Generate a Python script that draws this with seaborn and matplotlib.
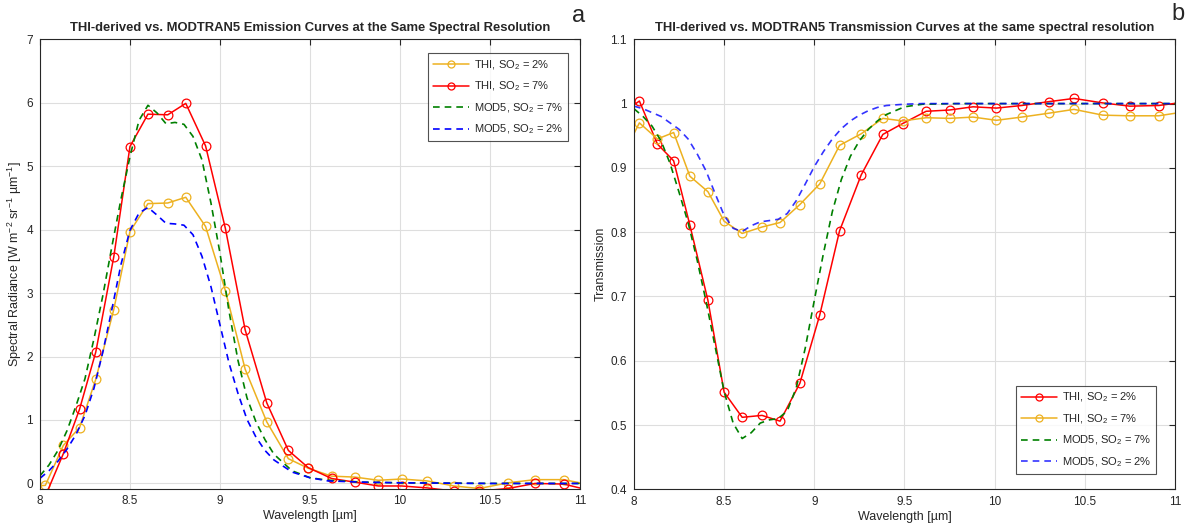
import matplotlib
matplotlib.use("Agg")
import matplotlib.pyplot as plt
from matplotlib.ticker import FuncFormatter, FixedLocator
import seaborn as sns

# ---------------- data ----------------
wl_thi = [7.94, 8.03, 8.13, 8.22, 8.31, 8.41, 8.50, 8.60, 8.71, 8.81, 8.92, 9.03, 9.14,
          9.26, 9.38, 9.49, 9.62, 9.75, 9.88, 10.01, 10.15, 10.30, 10.44, 10.60, 10.75,
          10.91, 11.07]

# panel a: emission (radiance)
rad_thi_2 = [-0.05, -0.03, 0.60, 0.88, 1.64, 2.74, 3.97, 4.41, 4.42, 4.51, 4.05, 3.04, 1.80,
             0.97, 0.39, 0.24, 0.115, 0.10, 0.05, 0.07, 0.04, -0.04, -0.08, 0.01, 0.06,
             0.06, -0.03]
rad_thi_7 = [-0.4, -0.2, 0.47, 1.17, 2.07, 3.57, 5.31, 5.82, 5.81, 5.99, 5.32, 4.02, 2.42,
             1.27, 0.52, 0.25, 0.078, 0.02, -0.04, -0.04, -0.07, -0.12, -0.12, -0.08, 0.0,
             -0.01, -0.12]

wl_mod_a = [8.0, 8.05, 8.1, 8.15, 8.2, 8.25, 8.3, 8.35, 8.4, 8.45, 8.5, 8.55, 8.6, 8.65,
            8.7, 8.75, 8.8, 8.85, 8.9, 8.95, 9.0, 9.05, 9.1, 9.15, 9.2, 9.25, 9.3, 9.4,
            9.5, 9.6, 9.8, 10.0, 10.5, 11.0]
rad_mod_7 = [0.12, 0.29, 0.52, 0.83, 1.22, 1.65, 2.28, 2.97, 3.74, 4.48, 5.15, 5.72, 5.96,
             5.84, 5.67, 5.69, 5.66, 5.47, 5.10, 4.42, 3.63, 2.72, 1.94, 1.35, 0.97, 0.69,
             0.46, 0.20, 0.09, 0.05, 0.02, 0.01, 0.0, 0.0]
rad_mod_2 = [0.08, 0.20, 0.35, 0.54, 0.77, 1.07, 1.50, 2.08, 2.75, 3.45, 3.99, 4.26, 4.35,
             4.23, 4.10, 4.09, 4.07, 3.92, 3.58, 3.10, 2.50, 1.90, 1.42, 1.01, 0.73, 0.52,
             0.37, 0.18, 0.09, 0.04, 0.02, 0.01, 0.0, 0.0]

# panel b: transmission
tr_thi_2 = [0.986, 1.004, 0.937, 0.911, 0.811, 0.694, 0.551, 0.512, 0.515, 0.506, 0.565,
            0.671, 0.802, 0.889, 0.952, 0.969, 0.988, 0.990, 0.995, 0.993, 0.997, 1.003,
            1.008, 1.001, 0.996, 0.997, 1.003]
tr_thi_7 = [0.92, 0.970, 0.945, 0.955, 0.887, 0.863, 0.817, 0.798, 0.808, 0.815, 0.843,
            0.875, 0.935, 0.953, 0.977, 0.973, 0.978, 0.977, 0.979, 0.974, 0.979, 0.985,
            0.991, 0.982, 0.981, 0.981, 0.988]

wl_mod_b = [8.0, 8.05, 8.1, 8.15, 8.2, 8.25, 8.3, 8.35, 8.4, 8.45, 8.5, 8.55, 8.6, 8.65,
            8.7, 8.75, 8.8, 8.85, 8.9, 8.95, 9.0, 9.05, 9.1, 9.15, 9.2, 9.25, 9.3, 9.35,
            9.4, 9.5, 9.6, 9.8, 10.0, 10.5, 11.0]
tr_mod_7 = [0.992, 0.980, 0.965, 0.942, 0.907, 0.862, 0.815, 0.757, 0.692, 0.622, 0.552,
            0.503, 0.479, 0.488, 0.503, 0.508, 0.510, 0.522, 0.558, 0.620, 0.694, 0.766,
            0.832, 0.882, 0.918, 0.942, 0.960, 0.973, 0.983, 0.995, 0.999, 1.0, 1.0, 1.0, 1.0]
tr_mod_2 = [0.996, 0.992, 0.986, 0.980, 0.970, 0.960, 0.945, 0.922, 0.895, 0.860, 0.826,
            0.806, 0.801, 0.810, 0.816, 0.818, 0.820, 0.829, 0.849, 0.875, 0.902, 0.925,
            0.945, 0.961, 0.973, 0.982, 0.989, 0.994, 0.997, 0.999, 1.0, 1.0, 1.0, 1.0, 1.0]

xticks = [8, 8.5, 9, 9.5, 10, 10.5, 11]
yticks_a = [0, 1, 2, 3, 4, 5, 6, 7]
yticks_b = [0.4, 0.5, 0.6, 0.7, 0.8, 0.9, 1.0, 1.1]

title_a = "THI-derived vs. MODTRAN5 Emission Curves at the Same Spectral Resolution"
title_b = "THI-derived vs. MODTRAN5 Transmission Curves at the same spectral resolution"

ORANGE = "#EDB120"
RED = "#FF0000"
GREEN = "#008000"
BLUE = "#0000FF"

# ---------------- style ----------------
sns.set_style("white")
plt.rcParams["font.family"] = ["Liberation Sans", "DejaVu Sans"]
plt.rcParams["mathtext.fontset"] = "custom"
plt.rcParams["mathtext.rm"] = "Liberation Sans"
plt.rcParams["mathtext.it"] = "Liberation Sans:italic"
plt.rcParams["mathtext.default"] = "regular"

fig = plt.figure(figsize=(11.89, 5.31), dpi=100)
ax_a = fig.add_axes([0.0336, 0.080, 0.4542, 0.846])
ax_b = fig.add_axes([0.5332, 0.0785, 0.4550, 0.8475])

mk = dict(marker="o", markersize=6.3, markerfacecolor="none", markeredgewidth=0.9)
dash = (0, (4, 3))


def style_axes(ax, yticks, ylim):
    ax.set_xlim(8, 11)
    ax.set_ylim(*ylim)
    ax.xaxis.set_major_locator(FixedLocator(xticks))
    ax.yaxis.set_major_locator(FixedLocator(yticks))
    fmt = FuncFormatter(lambda v, p: "%g" % round(v, 3))
    ax.xaxis.set_major_formatter(fmt)
    ax.yaxis.set_major_formatter(fmt)
    ax.grid(True, color="#DEDEDE", linewidth=0.8)
    ax.set_axisbelow(True)
    for s in ax.spines.values():
        s.set_color("#262626")
        s.set_linewidth(0.8)
    ax.tick_params(direction="in", length=4, width=0.8, top=True, right=True,
                   labelsize=8.5, colors="#262626", labelcolor="#262626", pad=5)
    ax.set_xlabel("Wavelength [\u00b5m]", fontsize=9, color="#262626", labelpad=2)


leg_kw = dict(fontsize=8, frameon=True, fancybox=False, edgecolor="#262626",
              handlelength=3.2, borderpad=0.45, labelspacing=0.72, handletextpad=0.45,
              borderaxespad=0.0, markerscale=0.8)

# ---- panel a ----
sns.lineplot(x=wl_thi, y=rad_thi_2, ax=ax_a, color=ORANGE, linewidth=1.1,
             markeredgecolor=ORANGE, label="THI, SO$_2$ = 2%", **mk)
sns.lineplot(x=wl_thi, y=rad_thi_7, ax=ax_a, color=RED, linewidth=1.1,
             markeredgecolor=RED, label="THI, SO$_2$ = 7%", **mk)
sns.lineplot(x=wl_mod_a, y=rad_mod_7, ax=ax_a, color=GREEN, linewidth=1.2,
             linestyle=dash, label="MOD5, SO$_2$ = 7%")
sns.lineplot(x=wl_mod_a, y=rad_mod_2, ax=ax_a, color=BLUE, linewidth=1.2,
             linestyle=dash, label="MOD5, SO$_2$ = 2%")
style_axes(ax_a, yticks_a, (-0.08, 7))
ax_a.set_ylabel("Spectral Radiance [W m$^{-2}$ sr$^{-1}$ \u00b5m$^{-1}$]",
                fontsize=9, color="#262626", labelpad=2)
ax_a.set_title(title_a, fontsize=9.4, fontweight="bold", pad=6)
leg = ax_a.legend(loc="upper right", bbox_to_anchor=(0.978, 0.9695), **leg_kw)
leg.get_frame().set_linewidth(0.8)

# ---- panel b ----
sns.lineplot(x=wl_thi, y=tr_thi_2, ax=ax_b, color=RED, linewidth=1.1,
             markeredgecolor=RED, label="THI, SO$_2$ = 2%", **mk)
sns.lineplot(x=wl_thi, y=tr_thi_7, ax=ax_b, color=ORANGE, linewidth=1.1,
             markeredgecolor=ORANGE, label="THI, SO$_2$ = 7%", **mk)
sns.lineplot(x=wl_mod_b, y=tr_mod_7, ax=ax_b, color=GREEN, linewidth=1.2,
             linestyle=dash, label="MOD5, SO$_2$ = 7%")
sns.lineplot(x=wl_mod_b, y=tr_mod_2, ax=ax_b, color=BLUE, linewidth=1.2,
             linestyle=dash, alpha=0.8, label="MOD5, SO$_2$ = 2%")
style_axes(ax_b, yticks_b, (0.4, 1.1))
ax_b.set_ylabel("Transmission", fontsize=9, color="#262626", labelpad=3)
ax_b.set_title(title_b, fontsize=9.4, fontweight="bold", pad=6)
leg = ax_b.legend(loc="lower right", bbox_to_anchor=(0.965, 0.034), **leg_kw)
leg.get_frame().set_linewidth(0.8)

fig.text(579 / 1189, 1 - 16 / 531, "a", fontsize=17, ha="center", va="center")
fig.text(1178 / 1189, 1 - 14 / 531, "b", fontsize=17, ha="center", va="center")

fig.savefig("out.png", dpi=100)
